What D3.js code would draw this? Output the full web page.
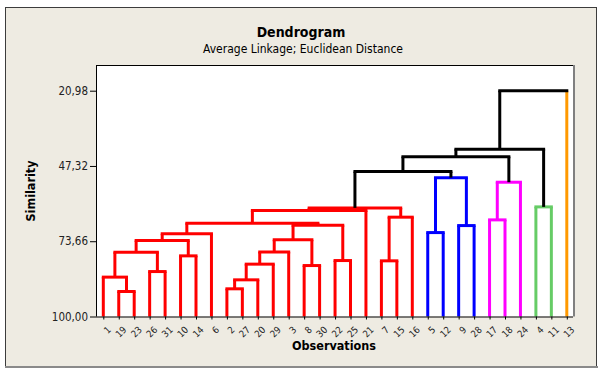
<!DOCTYPE html>
<html>
<head>
<meta charset="utf-8">
<script src="https://cdn.jsdelivr.net/npm/d3@7/dist/d3.min.js"></script>
<style>
  body { margin: 0; background: #fff; }
  text { font-family: "DejaVu Sans Condensed", "DejaVu Sans", "Liberation Sans", sans-serif; }
</style>
</head>
<body>
<figure id="dendro" style="margin:0"></figure>
<script>
// leaf order along the x axis
const observations = ['1','19','23','26','31','10','14','6','2','27','20','29','3','8','30',
  '22','25','21','7','15','16','5','12','9','28','17','18','24','4','11','13'];

// final cluster of each observation (same order as above)
const leafCluster = [0,0,0,0,0,0,0,0,0,0,0,0,0,0,0,0,0,0,0,0,0,1,1,1,1,2,2,2,3,3,4];
const clusterColors = ['#ff0000', '#0000ff', '#ff00ff', '#66cc66', '#ff9900'];

// linkage steps: [left, right, similarity]; step i makes cluster "C" + (i + 1)
const merges = [
  ['19', '23', 91.26],
  ['2', '27', 90.31],
  ['C2', '20', 87.17],
  ['1', 'C1', 86.22],
  ['26', '31', 84.27],
  ['8', '30', 82.17],
  ['C3', '29', 81.68],
  ['7', '15', 80.52],
  ['22', '25', 80.42],
  ['10', '14', 78.78],
  ['C4', 'C5', 77.52],
  ['C7', '3', 77.45],
  ['C11', 'C10', 73.43],
  ['C12', 'C6', 73.18],
  ['C13', '6', 71.08],
  ['5', '12', 70.63],
  ['9', '28', 68.18],
  ['C14', 'C9', 68.10],
  ['C15', 'C18', 67.34],
  ['17', '18', 66.19],
  ['C8', '16', 65.24],
  ['C19', '21', 62.94],
  ['C22', 'C21', 61.99],
  ['4', '11', 61.64],
  ['C16', 'C17', 51.40],
  ['C20', '24', 53.01],
  ['C23', 'C25', 49.30],
  ['C27', 'C26', 44.06],
  ['C28', 'C24', 41.47],
  ['C29', '13', 20.98]
];

const yTicks = [20.98, 47.32, 73.66, 100.00];

const W = 598, H = 369;
const plot = { left: 96, top: 65, right: 573, bottom: 316.5 };

const svg = d3.select('#dendro').append('svg')
  .attr('width', W).attr('height', H);

// outer frame
svg.append('rect').attr('x', 5.5).attr('y', 7.5).attr('width', 591).attr('height', 359)
  .attr('fill', '#eeebe2').attr('stroke', '#3c3c3c').attr('stroke-width', 1);
svg.append('line').attr('x1', 5).attr('x2', 598).attr('y1', 367).attr('y2', 367)
  .attr('stroke', '#8a8a8a').attr('stroke-width', 2);

// plot area
svg.append('rect').attr('x', plot.left).attr('y', plot.top)
  .attr('width', plot.right - plot.left).attr('height', plot.bottom - plot.top)
  .attr('fill', '#fff');
svg.append('line').attr('x1', plot.left).attr('x2', plot.right).attr('y1', plot.top + 0.5).attr('y2', plot.top + 0.5)
  .attr('stroke', '#000');
svg.append('line').attr('x1', plot.right + 1).attr('x2', plot.right + 1).attr('y1', plot.top).attr('y2', plot.bottom)
  .attr('stroke', '#808080').attr('stroke-width', 2);

const x = d3.scalePoint().domain(observations).range([103.3, 566.8]);
const y = d3.scaleLinear().domain([100, 20.98]).range([316.5, 90.7]);

// build node table
const nodes = {};
observations.forEach((o, i) => {
  nodes[o] = { x: x(o), sim: 100, leaf: true, color: clusterColors[leafCluster[i]], cl: leafCluster[i] };
});
merges.forEach((m, i) => {
  const a = nodes[m[0]], b = nodes[m[1]];
  const cl = a.cl === b.cl ? a.cl : -1;
  nodes['C' + (i + 1)] = {
    x: (a.x + b.x) / 2, sim: m[2], leaf: false, cl: cl,
    color: cl >= 0 ? clusterColors[cl] : '#000', a: a, b: b
  };
});

const links = svg.append('g').attr('fill', 'none').attr('stroke-width', 3)
  .attr('stroke-linecap', 'square');

merges.forEach((m, i) => {
  const n = nodes['C' + (i + 1)];
  [n.a, n.b].forEach(c => {
    links.append('path')
      .attr('d', `M${c.x},${y(c.sim)}V${y(n.sim)}`)
      .attr('stroke', c.leaf ? c.color : n.color)
      .attr('stroke-linecap', 'butt');
  });
  links.append('path')
    .attr('d', `M${n.a.x},${y(n.sim)}H${n.b.x}`)
    .attr('stroke', n.color);
});

// axes
const yAxis = svg.append('g').attr('transform', `translate(${plot.left},0)`)
  .call(d3.axisLeft(y).tickValues(yTicks).tickSize(6).tickPadding(2)
    .tickFormat(d => d3.format('.2f')(d).replace('.', ',')));
yAxis.select('.domain').attr('d', `M0.5,${plot.top}V${plot.bottom}`);
yAxis.selectAll('text').attr('font-size', 11.5).attr('fill', '#222');

const xAxis = svg.append('g').attr('transform', `translate(0,${plot.bottom})`)
  .call(d3.axisBottom(x).tickSize(3).tickPadding(2));
xAxis.select('.domain').attr('d', `M${plot.left},0.5H${plot.right}`);
xAxis.selectAll('text')
  .attr('font-size', 9.5).attr('fill', '#222')
  .attr('text-anchor', 'end')
  .attr('dy', '0.35em')
  .attr('transform', 'translate(2,8) rotate(-45)');

// titles
svg.append('text').attr('x', 301).attr('y', 37).attr('text-anchor', 'middle')
  .attr('font-size', 14).attr('font-weight', 'bold').text('Dendrogram');
svg.append('text').attr('x', 303).attr('y', 53).attr('text-anchor', 'middle')
  .attr('font-size', 12).text('Average Linkage; Euclidean Distance');
svg.append('text').attr('x', 334).attr('y', 350).attr('text-anchor', 'middle')
  .attr('font-size', 12.5).attr('font-weight', 'bold').text('Observations');
svg.append('text').attr('transform', 'translate(35,191) rotate(-90)').attr('text-anchor', 'middle')
  .attr('font-size', 12.5).attr('font-weight', 'bold').text('Similarity');
</script>
</body>
</html>
